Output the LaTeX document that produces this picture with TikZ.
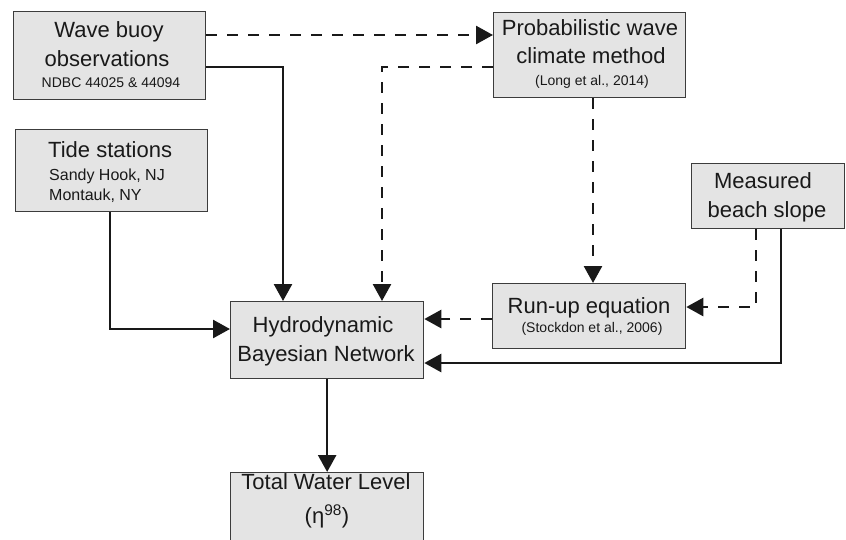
\documentclass[tikz,border=0pt]{standalone}
\usepackage{fontspec}
\setmainfont{Liberation Sans}
\usetikzlibrary{arrows.meta}
\definecolor{boxfill}{RGB}{228,228,228}
\definecolor{boxline}{RGB}{60,60,60}
\definecolor{ink}{RGB}{25,25,25}
\tikzset{
  box/.style={draw=boxline, line width=1.3pt, fill=boxfill, inner sep=0pt, anchor=north west},
  big/.style={font=\fontsize{22}{26}\selectfont, text=ink, inner sep=0pt, anchor=base},
  small/.style={font=\fontsize{14}{17}\selectfont, text=ink, inner sep=0pt, anchor=base},
  mid/.style={font=\fontsize{16}{19}\selectfont, text=ink, inner sep=0pt, anchor=base west},
  sol/.style={draw=ink, line width=2.6pt, -{Triangle[length=17pt,width=18pt]}},
  dsh/.style={draw=ink, line width=2.6pt, dash pattern=on 11pt off 10pt, -{Triangle[length=17pt,width=18pt]}},
}
\begin{document}
\begin{tikzpicture}[x=1pt,y=-1pt]
\useasboundingbox (0,0) rectangle (846,539);
\clip (0,0) rectangle (846,539);
\fill[white] (0,0) rectangle (846,539);
% boxes
\node[box, minimum width=192pt, minimum height=88pt] (buoy) at (13,11) {};
\node[box, minimum width=192pt, minimum height=85pt] (prob) at (493,12) {};
\node[box, minimum width=192pt, minimum height=82pt] (tide) at (15,129) {};
\node[box, minimum width=193pt, minimum height=77pt] (hbn) at (230,301) {};
\node[box, minimum width=193pt, minimum height=65pt] (runup) at (492,283) {};
\node[box, minimum width=153pt, minimum height=65pt] (beach) at (691,163) {};
\node[box, minimum width=193pt, minimum height=90pt] (twl) at (230,472) {};
% texts
\node[big] (t1a) at (109,37) {Wave buoy};
\node[big] (t1b) at (107,66) {observations};
\node[small] (t1c) at (111,87) {NDBC 44025 \& 44094};
\node[big] (t2a) at (590,35) {Probabilistic wave};
\node[big] (t2b) at (591,63) {climate method};
\node[small] (t2c) at (592,85) {(Long et al., 2014)};
\node[big, anchor=base west] (t3a) at (48,157) {Tide stations};
\node[mid] (t3b) at (49,180) {Sandy Hook, NJ};
\node[mid] (t3c) at (49,200) {Montauk, NY};
\node[big] (t4a) at (323,332) {Hydrodynamic};
\node[big] (t4b) at (326,361) {Bayesian Network};
\node[big] (t5a) at (589,313) {Run-up equation};
\node[small] (t5b) at (592,332) {(Stockdon et al., 2006)};
\node[big] (t6a) at (763,188) {Measured};
\node[big] (t6b) at (767,217) {beach slope};
\node[big] (t7a) at (326,489) {Total Water Level};
\node[big] (t7b) at (327,523) {(η\textsuperscript{98})};
% connectors
\draw[dsh] (buoy.east |- 0,35) -- (prob.west |- 0,35);
\draw[sol] (buoy.east |- 0,67) -| (hbn.north -| 283,0);
\draw[dsh] (prob.west |- 0,67) -| (hbn.north -| 382,0);
\draw[dsh] (prob.south -| 593,0) -- (runup.north -| 593,0);
\draw[dsh] (beach.south -| 756,0) |- (runup.east |- 0,307);
\draw[sol] (beach.south -| 781,0) |- (hbn.east |- 0,363);
\draw[dsh] (runup.west |- 0,319) -- (hbn.east |- 0,319);
\draw[sol] (tide.south -| 110,0) |- (hbn.west |- 0,329);
\draw[sol] (hbn.south) -- (twl.north);
\end{tikzpicture}
\end{document}
